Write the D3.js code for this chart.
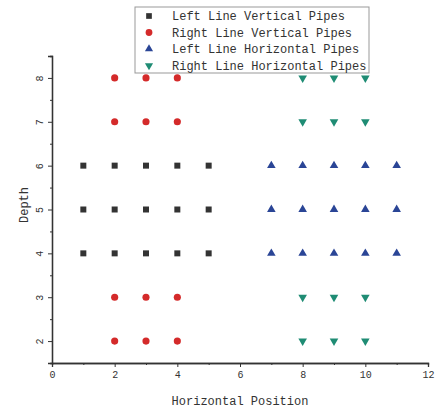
<!DOCTYPE html>
<html>
<head>
<meta charset="utf-8">
<script src="https://cdn.jsdelivr.net/npm/d3@7"></script>
<style>
  body { margin: 0; background: #fff; }
  text { font-family: "Liberation Mono", "DejaVu Sans Mono", monospace; fill: #333; }
</style>
</head>
<body>
<div id="chart"></div>
<script>
// series: each is list of [horizontal position, depth]
const leftVertical = [
    [1, 4], [2, 4], [3, 4], [4, 4], [5, 4],
    [1, 5], [2, 5], [3, 5], [4, 5], [5, 5],
    [1, 6], [2, 6], [3, 6], [4, 6], [5, 6]
];
const rightVertical = [
    [2, 2], [3, 2], [4, 2],
    [2, 3], [3, 3], [4, 3],
    [2, 7], [3, 7], [4, 7],
    [2, 8], [3, 8], [4, 8]
];
const leftHorizontal = [
    [7, 4], [8, 4], [9, 4], [10, 4], [11, 4],
    [7, 5], [8, 5], [9, 5], [10, 5], [11, 5],
    [7, 6], [8, 6], [9, 6], [10, 6], [11, 6]
];
const rightHorizontal = [
    [8, 2], [9, 2], [10, 2],
    [8, 3], [9, 3], [10, 3],
    [8, 7], [9, 7], [10, 7],
    [8, 8], [9, 8], [10, 8]
];
const seriesNames = ["Left Line Vertical Pipes", "Right Line Vertical Pipes", "Left Line Horizontal Pipes", "Right Line Horizontal Pipes"];
const xTicks = [0, 2, 4, 6, 8, 10, 12];
const yTicks = [2, 3, 4, 5, 6, 7, 8];

const W = 435, H = 411;
const margin = { top: 56, right: 7, bottom: 48, left: 52 };
const width = W - margin.left - margin.right;
const height = H - margin.top - margin.bottom;

const svg = d3.select("#chart").append("svg")
    .attr("width", W).attr("height", H);
const g = svg.append("g").attr("transform", `translate(${margin.left},${margin.top})`);

const x = d3.scaleLinear().domain([0, 12]).range([0, width]);
const y = d3.scaleLinear().domain([1.5, 8.5]).range([height, 0]);

const series = [
    { name: seriesNames[0], data: leftVertical, symbol: d3.symbolSquare, size: 36, color: "#333333" },
    { name: seriesNames[1], data: rightVertical, symbol: d3.symbolCircle, size: 40, color: "#d42a2a" },
    { name: seriesNames[2], data: leftHorizontal, symbol: d3.symbolTriangle, size: 32, color: "#2a4596" },
    { name: seriesNames[3], data: rightHorizontal, symbol: d3.symbolTriangle, size: 32, color: "#1f8c74", flip: true }
];

// axes
const xAxis = g.append("g").attr("transform", `translate(0,${height})`)
    .call(d3.axisBottom(x).tickValues(xTicks).tickSize(4).tickPadding(4).tickFormat(d3.format("d")));
g.append("g").attr("transform", `translate(0,${height})`)
    .call(d3.axisBottom(x).tickValues(d3.range(1, 12, 2)).tickSize(2).tickFormat(""));
const yAxis = g.append("g")
    .call(d3.axisLeft(y).tickValues(yTicks).tickSize(4).tickPadding(4).tickFormat(d3.format("d")));
g.append("g")
    .call(d3.axisLeft(y).tickValues(d3.range(2.5, 8.5, 1)).tickSize(2).tickFormat(""));

g.selectAll(".domain").attr("stroke", "#333").attr("stroke-width", 1.3);
g.selectAll(".tick line").attr("stroke", "#333");
xAxis.selectAll("text").style("font-size", "10px").attr("fill", "#444");
yAxis.selectAll("text").style("font-size", "10px").attr("fill", "#444")
    .attr("transform", "rotate(-90, -12, 0)")
    .attr("text-anchor", "middle").attr("dy", "0.3em").attr("x", -12);

g.append("text")
    .attr("x", 188).attr("y", height + 42)
    .attr("text-anchor", "middle")
    .style("font-size", "12px")
    .text("Horizontal Position");
g.append("text")
    .attr("transform", "rotate(-90)")
    .attr("x", -149).attr("y", -24)
    .attr("text-anchor", "middle")
    .style("font-size", "12px")
    .text("Depth");

// points
series.forEach(s => {
    g.selectAll(null).data(s.data).enter().append("path")
        .attr("d", d3.symbol().type(s.symbol).size(s.size))
        .attr("transform", d => `translate(${x(d[0])},${y(d[1])})${s.flip ? " rotate(180)" : ""}`)
        .attr("fill", s.color);
});

// legend
const lg = svg.append("g").attr("transform", "translate(135,7)");
lg.append("rect").attr("width", 234).attr("height", 66)
    .attr("fill", "#fff").attr("stroke", "#999").attr("stroke-width", 1);
series.forEach((s, i) => {
    const row = lg.append("g").attr("transform", `translate(0,${9 + i * 16.5})`);
    row.append("path")
        .attr("d", d3.symbol().type(s.symbol).size(s.size * 0.9))
        .attr("transform", `translate(14,0)${s.flip ? " rotate(180)" : ""}`)
        .attr("fill", s.color);
    row.append("text").attr("x", 37).attr("dy", "0.35em")
        .style("font-size", "12px")
        .text(s.name);
});
</script>
</body>
</html>
